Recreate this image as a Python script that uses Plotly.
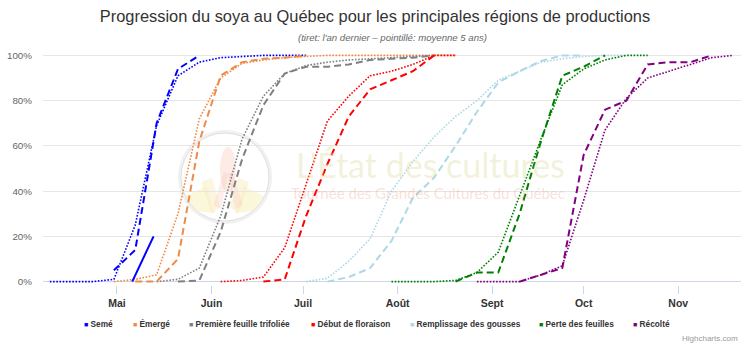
import pandas as pd
import plotly.graph_objects as go

# ---- data -------------------------------------------------------------
# weekly survey dates (same calendar position every year)
semaines = pd.date_range("2024-04-09", periods=33, freq="7D")

phases = ["Semé", "Émergé", "Première feuille trifoliée", "Début de floraison",
          "Remplissage des gousses", "Perte des feuilles", "Récolté"]
couleurs = ["#0000ff", "#ef8a48", "#808080", "#ff0000", "#add8e6", "#008000", "#800080"]

# 5-year average (dotted) : (index of first week, values in %)
seme_moy = (0, [0, 0, 0, 1, 25, 69, 91, 97, 99, 99.5, 100, 100, 100])
emerge_moy = (3, [0, 1, 3, 30, 72, 90, 96.5, 98, 99, 99.5, 100, 100, 100, 100, 100, 100, 100])
trifol_moy = (5, [0, 1, 6, 29, 63, 82, 92, 95.5, 97, 98, 98.5, 99, 99.5, 100])
flor_moy = (8, [0, 0.5, 2, 15, 43, 71, 82, 91, 93, 96, 100, 100])
gousse_moy = (12, [0, 1.5, 9, 19, 40, 53, 64, 73, 80, 89, 93, 97, 98.5, 99.5, 100, 100])
feuil_moy = (16, [0, 0, 0, 0.5, 4, 13, 38, 63, 87, 94, 98, 100, 100])
recol_moy = (20, [0, 0, 0, 3, 7, 36, 67, 81, 90, 93, 96, 99, 100])

# last year (dashed)
seme_prec = (3, [5, 14, 70, 94, 100])
emerge_prec = (4, [0, 0, 10, 62, 91, 97, 98.5, 99, 100])
trifol_prec = (6, [0, 0.5, 22, 54, 78, 92, 95, 95, 96, 98, 98.5, 99, 100])
flor_prec = (10, [0, 1, 29, 52, 73, 85, 89, 93, 100])
gousse_prec = (13, [0, 2, 6, 18, 37, 46, 60, 75, 88, 93, 97.5, 100, 100])
feuil_prec = (19, [0, 4, 4, 30, 62, 91, 95, 100])
recol_prec = (22, [0, 3, 6, 56, 76, 80, 96, 97, 97, 100])

# current season (solid)
seme_dates_cour = ["2024-05-06", "2024-05-13"]
seme_cour = [0, 20]

moyennes = [seme_moy, emerge_moy, trifol_moy, flor_moy, gousse_moy, feuil_moy, recol_moy]
precedentes = [seme_prec, emerge_prec, trifol_prec, flor_prec, gousse_prec, feuil_prec, recol_prec]

mois_ticks = ["2024-05-01", "2024-06-01", "2024-07-01", "2024-08-01",
              "2024-09-01", "2024-10-01", "2024-11-01"]
mois_labels = ["Mai", "Juin", "Juil", "Août", "Sept", "Oct", "Nov"]
pct_ticks = [0, 20, 40, 60, 80, 100]
pct_labels = ["0%", "20%", "40%", "60%", "80%", "100%"]

# ---- layout geometry (pixels) ----------------------------------------
W, H = 750, 347
ML, MR, MT, MB = 43, 9, 52, 62
PW, PH = W - ML - MR, H - MT - MB
FONT = "Liberation Sans, Arial, sans-serif"


def px(x):
    return (x - ML) / PW


def py(y):
    return (H - MB - y) / PH


fig = go.Figure()

for nom, coul, (d0, vals) in zip(phases, couleurs, moyennes):
    fig.add_trace(go.Scatter(x=semaines[d0:d0 + len(vals)], y=vals, mode="lines",
                             name=nom + " (moyenne 5 ans)", showlegend=False,
                             line=dict(color=coul, width=1.6, dash="1.6px,1.6px")))

for nom, coul, (d0, vals) in zip(phases, couleurs, precedentes):
    fig.add_trace(go.Scatter(x=semaines[d0:d0 + len(vals)], y=vals, mode="lines",
                             name=nom + " (an dernier)", showlegend=False,
                             line=dict(color=coul, width=2, dash="7px,4px")))

fig.add_trace(go.Scatter(x=seme_dates_cour, y=seme_cour, mode="lines", name="Semé",
                         showlegend=False, line=dict(color=couleurs[0], width=2)))

# ---- watermark: logo + texts ------------------------------------------
shapes = []


def circ(cx, cy, rx, ry, fill, line=None):
    shapes.append(dict(type="circle", xref="paper", yref="paper",
                       x0=px(cx - rx), x1=px(cx + rx), y0=py(cy + ry), y1=py(cy - ry),
                       layer="between", fillcolor=fill, line=line or dict(width=0)))


def poly(pts, fill):
    d = "M " + " L ".join(f"{px(a):.4f},{py(b):.4f}" for a, b in pts) + " Z"
    shapes.append(dict(type="path", xref="paper", yref="paper", path=d,
                       fillcolor=fill, line=dict(width=0), layer="between"))


circ(225, 177, 47, 47, "rgba(200,200,200,0.25)")
circ(225, 177, 44, 44, "rgba(255,255,255,0.96)", dict(color="rgba(220,220,220,0.9)", width=1))
yel = "rgba(248,240,190,0.55)"
poly([(186, 196), (206, 186), (214, 213), (196, 211)], yel)
poly([(244, 186), (264, 196), (254, 211), (236, 213)], yel)
poly([(201, 182), (212, 178), (220, 207), (212, 214)], "rgba(248,232,185,0.45)")
poly([(238, 178), (249, 182), (238, 214), (230, 207)], "rgba(248,232,185,0.45)")
circ(228, 170, 8, 23, "rgba(250,205,190,0.4)")
poly([(213, 205), (224, 172), (228, 174), (221, 209)], "rgba(248,195,175,0.28)")
poly([(243, 205), (232, 172), (228, 174), (235, 209)], "rgba(248,195,175,0.28)")

annotations = [
    dict(text="L'État des cultures", x=px(430), y=py(164), xref="paper", yref="paper",
         showarrow=False, font=dict(family="Lato", size=34, color="rgba(225,225,165,0.42)"),
         xanchor="center", yanchor="middle"),
    dict(text="Tournée des Grandes Cultures du Québec", x=px(428), y=py(193),
         xref="paper", yref="paper", showarrow=False,
         font=dict(family="Lato", size=15, color="rgba(240,150,120,0.3)"),
         xanchor="center", yanchor="middle"),
    dict(text="<i>(tiret: l'an dernier – pointillé: moyenne 5 ans)</i>", x=0.5, y=py(38),
         xref="paper", yref="paper", showarrow=False, xanchor="center", yanchor="middle",
         font=dict(family=FONT, size=9.6, color="#666666")),
    dict(text="Highcharts.com", x=1, xref="paper", xanchor="right", xshift=-1,
         y=py(338), yref="paper", yanchor="middle", showarrow=False,
         font=dict(family=FONT, size=8, color="#999999")),
]

# legend items: colored square + label
legende_px = [82, 131, 187, 309, 408, 537, 631]
for nom, coul, xl in zip(phases, couleurs, legende_px):
    annotations.append(dict(
        text=f"<span style='color:{coul};font-size:7px'>■</span> {nom}",
        x=px(xl), y=py(324), xref="paper", yref="paper", xanchor="left",
        yanchor="middle", showarrow=False,
        font=dict(family=FONT, size=8.3, color="#333333", weight="bold")))

fig.update_layout(
    width=W, height=H,
    margin=dict(l=ML, r=MR, t=MT, b=MB, autoexpand=False),
    paper_bgcolor="white", plot_bgcolor="white",
    title=dict(text="Progression du soya au Québec pour les principales régions de productions",
               x=0.5, xanchor="center", y=1 - 16 / H, yanchor="middle", yref="container",
               font=dict(family=FONT, size=16.4, color="#333333")),
    showlegend=False,
    shapes=shapes,
    annotations=annotations,
    xaxis=dict(type="date", range=["2024-04-06 18:00", "2024-11-21 14:00"],
               tickvals=mois_ticks, ticktext=mois_labels, showgrid=False,
               ticks="outside", ticklen=8, tickcolor="#ccd6eb", showline=False,
               zeroline=False, automargin=False,
               tickfont=dict(family=FONT, size=10.5, color="#333333", weight="bold")),
    yaxis=dict(range=[-1.5, 101.5], tickvals=pct_ticks, ticktext=pct_labels,
               showgrid=True, gridcolor="#e6e6e6", gridwidth=1,
               zeroline=True, zerolinecolor="#ccd6eb", zerolinewidth=1,
               showline=False, ticklabelstandoff=10, automargin=False,
               tickfont=dict(family=FONT, size=9.8, color="#666666")),
)

fig.write_html("out.html")
